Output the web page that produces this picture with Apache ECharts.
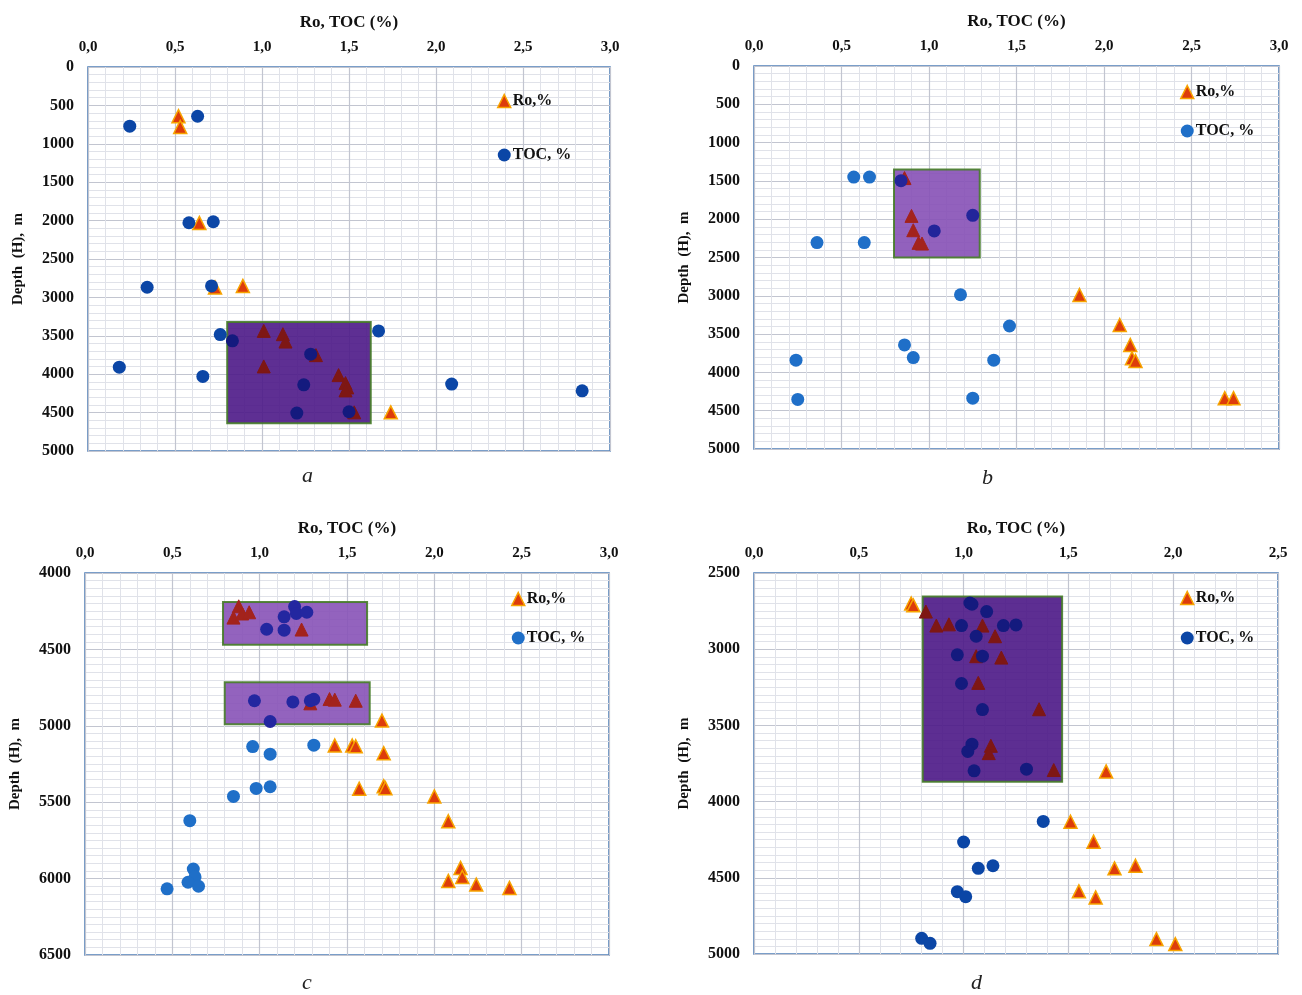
<!DOCTYPE html>
<html>
<head>
<meta charset="utf-8">
<script src="https://cdn.jsdelivr.net/npm/echarts@6/dist/echarts.min.js"></script>
<style>html,body{margin:0;padding:0;background:#fff}#chart{width:1302px;height:995px}</style>
</head>
<body>
<div id="chart"></div>
<script>
// ---------- DATA ----------
const panelNames = ['a', 'b', 'c', 'd'];
const xTickLabels = ['0,0', '0,5', '1,0', '1,5', '2,0', '2,5', '3,0'];
const yTickLabelsAB = ['0', '500', '1000', '1500', '2000', '2500', '3000', '3500', '4000', '4500', '5000'];
const yTickLabelsC = ['4000', '4500', '5000', '5500', '6000', '6500'];
const yTickLabelsD = ['2500', '3000', '3500', '4000', '4500', '5000'];

// [value %, depth m]
const roA = [[0.52,640],[0.53,780],[0.64,2030],[0.73,2870],[0.89,2850],[1.74,4497],
  [1.01,3436],[1.12,3479],[1.135,3575],[1.31,3752],[1.01,3899],[1.44,4012],[1.48,4116],[1.49,4172],[1.48,4211],[1.53,4497]];
const tocA = [[0.63,641],[0.24,771],[0.58,2028],[0.72,2015],[0.34,2868],[0.71,2851],[0.76,3484],[0.83,3566],
  [1.67,3436],[1.28,3739],[0.18,3908],[0.66,4029],[1.24,4138],[2.09,4129],[2.84,4216],[1.20,4506],[1.50,4489]];
const roB = [[0.86,1463],[0.90,1957],[0.91,2144],[0.94,2309],[0.96,2318],[1.86,2990],[2.09,3381],[2.15,3641],
  [2.16,3815],[2.18,3850],[2.69,4336],[2.74,4336]];
const tocB = [[0.57,1450],[0.66,1450],[0.84,1497],[1.25,1949],[1.03,2153],[0.36,2305],[0.63,2305],[1.18,2986],
  [1.46,3394],[0.86,3641],[0.91,3806],[0.24,3841],[1.37,3841],[0.25,4353],[1.25,4336]];
const roC = [[0.88,4218],[0.85,4292],[0.90,4265],[0.94,4257],[1.24,4370],[1.29,4853],[1.40,4825],[1.43,4829],[1.55,4836],
  [1.70,4966],[1.43,5129],[1.53,5129],[1.55,5134],[1.71,5179],[1.57,5412],[1.71,5395],[1.72,5408],[2.00,5462],
  [2.08,5625],[2.15,5930],[2.16,5989],[2.08,6015],[2.24,6039],[2.43,6061]];
const tocC = [[1.20,4220],[1.21,4265],[1.27,4257],[1.14,4287],[1.04,4368],[1.14,4374],[0.97,4836],[1.19,4844],[1.29,4836],
  [1.31,4827],[1.06,4972],[0.96,5136],[1.31,5127],[1.06,5186],[0.98,5410],[1.06,5399],[0.85,5462],[0.60,5621],
  [0.62,5937],[0.63,5989],[0.59,6024],[0.65,6050],[0.47,6067]];
const roD = [[0.75,2700],[0.76,2712],[0.82,2753],[0.87,2845],[0.93,2837],[1.09,2845],[1.15,2915],[1.06,3046],[1.18,3055],
  [1.07,3221],[1.36,3394],[1.13,3634],[1.12,3682],[1.43,3793],[1.68,3802],[1.51,4132],[1.62,4263],[1.72,4438],
  [1.82,4421],[1.55,4589],[1.63,4629],[1.92,4902],[2.01,4935]];
const tocD = [[1.03,2697],[1.04,2705],[1.11,2753],[0.99,2845],[1.19,2845],[1.25,2841],[1.06,2915],[0.97,3037],[1.09,3046],
  [0.99,3225],[1.09,3396],[1.04,3623],[1.02,3671],[1.05,3798],[1.30,3787],[1.38,4130],[1.00,4265],[1.07,4438],
  [1.14,4421],[0.97,4591],[1.01,4624],[0.80,4897],[0.84,4930]];

// highlighted zones [x0, depth0, x1, depth1]
const zonesA = [[0.80,3320,1.625,4640]];
const zonesB = [[0.80,1350,1.29,2500]];
const zonesC = [[0.79,4190,1.615,4470],[0.80,4715,1.63,4990]];
const zonesD = [[0.805,2655,1.47,3870]];

// ---------- LAYOUT / STYLE ----------
const FONT = 'Liberation Serif';
const grids = [
  {left: 88, top: 67, width: 522, height: 384},
  {left: 754, top: 66, width: 525, height: 383},
  {left: 85, top: 573, width: 524, height: 382},
  {left: 754, top: 573, width: 524, height: 381}
];
const yRanges = [[0,5000,yTickLabelsAB,5],[0,5000,yTickLabelsAB,5],[4000,6500,yTickLabelsC,10],[2500,5000,yTickLabelsD,10]];
const xMax = [3, 3, 3, 2.5];
const roData = [roA, roB, roC, roD];
const tocData = [tocA, tocB, tocC, tocD];
const zoneData = [zonesA, zonesB, zonesC, zonesD];
const tocColors = ['#0b46a6', '#1f6fc8', '#1f6fc8', '#0b46a6'];
const tocInColors = ['#141a7e', '#23259a', '#2327a0', '#141a7e'];
const roInColors = ['#7e1714', '#a3231c', '#a3231c', '#7e1714'];
const zoneColors = ['#4c1887', '#8650b6', '#8752b7', '#4b1786'];
const legendPos = [
  {left: 497, top: 93, itemGap: 38},
  {left: 1180, top: 84, itemGap: 23},
  {left: 511, top: 591, itemGap: 23},
  {left: 1180, top: 590, itemGap: 24}
];
const captionPos = [[308, 478], [988, 480], [308, 985], [977, 985]];

function isInside(pt, zones) {
  return zones.some(z => pt[0] >= z[0] && pt[0] <= z[2] && pt[1] >= z[1] && pt[1] <= z[3]);
}

const option = {
  backgroundColor: '#ffffff',
  animation: false,
  grid: grids.map(g => Object.assign({show: true, backgroundColor: '#fff', borderColor: '#4f7fb8', borderWidth: 1.6}, g)),
  xAxis: grids.map((g, i) => ({
    type: 'value', gridIndex: i, position: 'top', min: 0, max: xMax[i], interval: 0.5,
    name: 'Ro, TOC (%)', nameLocation: 'middle', nameGap: 36,
    nameTextStyle: {fontFamily: FONT, fontWeight: 'bold', fontSize: 17, color: '#111'},
    axisLine: {show: false}, axisTick: {show: false},
    axisLabel: {fontFamily: FONT, fontWeight: 'bold', fontSize: 15, color: '#111', margin: 12,
      formatter: v => xTickLabels[Math.round(v / 0.5)]},
    splitLine: {show: true, lineStyle: {color: '#c2c5d0', width: 1.2}},
    minorTick: {show: false, splitNumber: 5},
    minorSplitLine: {show: true, lineStyle: {color: '#e0e2e9', width: 1}}
  })),
  yAxis: grids.map((g, i) => ({
    type: 'value', gridIndex: i, inverse: true, min: yRanges[i][0], max: yRanges[i][1], interval: 500,
    name: 'Depth  (H),  m', nameLocation: 'middle', nameGap: 62, nameRotate: 90,
    nameTextStyle: {fontFamily: FONT, fontWeight: 'bold', fontSize: 15, color: '#111'},
    axisLine: {show: false}, axisTick: {show: false},
    axisLabel: {fontFamily: FONT, fontWeight: 'bold', fontSize: 16, color: '#111', margin: 14,
      formatter: v => yRanges[i][2][Math.round((v - yRanges[i][0]) / 500)]},
    splitLine: {show: true, lineStyle: {color: '#c2c5d0', width: 1.2}},
    minorTick: {show: false, splitNumber: yRanges[i][3]},
    minorSplitLine: {show: true, lineStyle: {color: '#e0e2e9', width: 1}}
  })),
  legend: legendPos.map((lp, i) => ({
    orient: 'vertical', left: lp.left, top: lp.top, itemGap: lp.itemGap,
    itemWidth: 13, itemHeight: 13, padding: 0, selectedMode: false,
    textStyle: {fontFamily: FONT, fontWeight: 'bold', fontSize: 16, color: '#111', padding: [0, 0, 0, -3]},
    data: [
      {name: 'Ro,%', icon: 'triangle', itemStyle: {color: '#dd3c0b', borderColor: '#f7a400', borderWidth: 1.5}},
      {name: 'TOC, %', icon: 'circle', itemStyle: {color: tocColors[i], borderWidth: 0}}
    ]
  })),
  graphic: captionPos.map((c, i) => ({
    type: 'text', left: c[0] - 6, top: c[1] - 13,
    style: {text: panelNames[i], font: 'italic 22px "Liberation Serif"', fill: '#222'}
  })),
  series: []
};

for (let i = 0; i < 4; i++) {
  // highlighted zone rectangles (drawn beneath the points)
  option.series.push({
    name: 'zone' + i, type: 'custom', xAxisIndex: i, yAxisIndex: i, data: zoneData[i], z: 1,
    encode: {x: [0, 2], y: [1, 3]}, silent: true,
    renderItem: (function (col) {
      return function (params, api) {
        const p0 = api.coord([api.value(0), api.value(1)]);
        const p1 = api.coord([api.value(2), api.value(3)]);
        return {
          type: 'rect',
          shape: {x: Math.min(p0[0], p1[0]), y: Math.min(p0[1], p1[1]),
                  width: Math.abs(p1[0] - p0[0]), height: Math.abs(p1[1] - p0[1])},
          style: {fill: col, opacity: 0.9, stroke: '#467c28', lineWidth: 2}
        };
      };
    })(zoneColors[i])
  });
  const zones = zoneData[i];
  option.series.push({
    name: 'Ro,%', type: 'scatter', xAxisIndex: i, yAxisIndex: i,
    data: roData[i].filter(p => !isInside(p, zones)),
    symbol: 'triangle', symbolSize: 13, z: 2,
    itemStyle: {color: '#dd3c0b', borderColor: '#f7a400', borderWidth: 1.5, opacity: 1}
  });
  option.series.push({
    name: 'TOC, %', type: 'scatter', xAxisIndex: i, yAxisIndex: i,
    data: tocData[i].filter(p => !isInside(p, zones)),
    symbol: 'circle', symbolSize: 13, z: 2,
    itemStyle: {color: tocColors[i], opacity: 1}
  });
  option.series.push({
    name: 'Ro,%', type: 'scatter', xAxisIndex: i, yAxisIndex: i,
    data: roData[i].filter(p => isInside(p, zones)),
    symbol: 'triangle', symbolSize: 13, z: 2,
    itemStyle: {color: roInColors[i], borderColor: roInColors[i], borderWidth: 1, opacity: 1}
  });
  option.series.push({
    name: 'TOC, %', type: 'scatter', xAxisIndex: i, yAxisIndex: i,
    data: tocData[i].filter(p => isInside(p, zones)),
    symbol: 'circle', symbolSize: 13, z: 2,
    itemStyle: {color: tocInColors[i], opacity: 1}
  });
}

const chart = echarts.init(document.getElementById('chart'), null, {renderer: 'canvas'});
chart.setOption(option);
</script>
</body>
</html>
